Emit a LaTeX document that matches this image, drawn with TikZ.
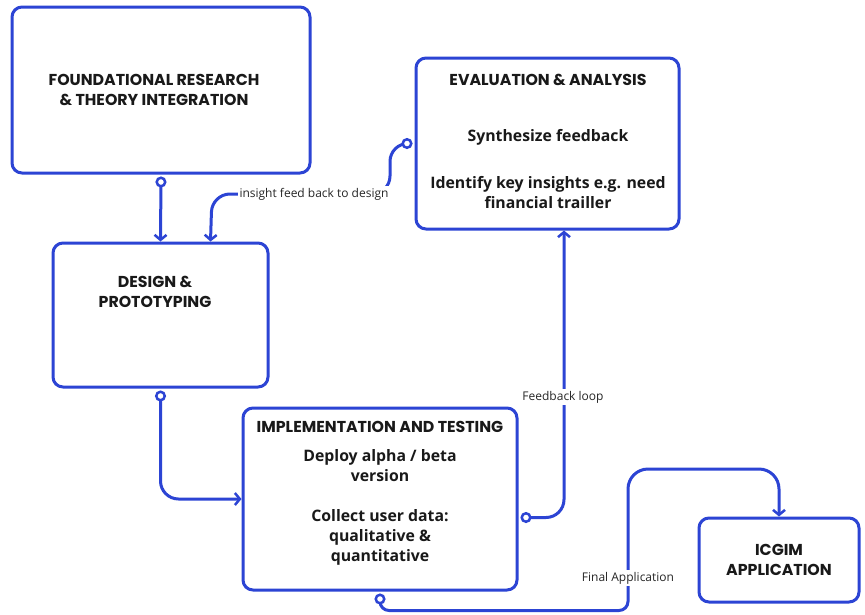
\documentclass[tikz,border=0pt]{standalone}
\usepackage{fontspec}
\setmainfont{Open Sans}
\newfontfamily\titlefont{Poppins}
\usetikzlibrary{arrows.meta,calc}
\definecolor{bl}{RGB}{44,68,212}
\begin{document}
\begin{tikzpicture}[x=1pt,y=-1pt,
  box/.style={draw=bl,line width=3pt,rounded corners=10pt,fill=white,inner sep=0pt},
  ttl/.style={font=\titlefont\bfseries\fontsize{15.8}{20}\selectfont,align=center,inner sep=0pt,text=black!90},
  bod/.style={font=\bfseries\fontsize{15.8}{20}\selectfont,align=center,inner sep=0pt,text=black!90},
  lbl/.style={font=\fontsize{12}{14}\selectfont,fill=white,inner sep=2pt,text=black!85},
  conn/.style={draw=bl,line width=3pt,rounded corners=18pt,
    {Circle[open,length=11pt,width=11pt,fill=white,line width=2.5pt]}-{Straight Barb[length=5pt,width=12pt,line width=2.5pt]}}]
\useasboundingbox[fill=white] (0,0) rectangle (865,614);
% boxes
\node[box,minimum width=298pt,minimum height=166pt] (f) at (161,90) {};
\node[box,minimum width=263pt,minimum height=171pt] (e) at (547.5,143.5) {};
\node[box,minimum width=215pt,minimum height=144pt] (d) at (160.5,315) {};
\node[box,minimum width=274pt,minimum height=182pt] (i) at (380,499) {};
\node[box,minimum width=160pt,minimum height=84pt] (g) at (779,560) {};
% texts
\node[ttl] (ft) at (154,90) {FOUNDATIONAL RESEARCH\\\& THEORY INTEGRATION};
\node[ttl] (et) at (548,80) {EVALUATION \& ANALYSIS};
\node[bod] (e1) at (548,137) {Synthesize feedback};
\node[bod] (e2) at (548,192.5) {Identify key insights e.g. need\\financial trailler};
\node[ttl] (dt) at (155,291.5) {DESIGN \&\\PROTOTYPING};
\node[ttl] (it) at (380,427) {IMPLEMENTATION AND TESTING};
\node[bod] (i1) at (380,466) {Deploy alpha / beta\\version};
\node[bod] (i2) at (380,537.5) {Collect user data:\\qualitative \&\\quantitative};
\node[ttl] (gt) at (779,560) {ICGIM\\APPLICATION};
% connectors
\draw[conn] ($(f.south)+(0,2)$) -- (d.north);
\draw[conn] ($(e.west)+(-2,0)$) -- (390,143.5) -- (390,194) -- (212,194) -- ($(d.north west)+(159,0)$);
\node[lbl] (l1) at (314,194) {insight feed back to design};
\draw[conn] ($(d.south)+(0,2)$) |- (i.west);
\draw[conn] ($(i.south east)+(2,-74)$) -| ($(e.south)+(16.5,0)$);
\node[lbl] (l2) at (563,397) {Feedback loop};
\draw[conn,rounded corners=9pt] ($(i.south)+(0,2)$) -- (380,610.5) -- (628,610.5) [rounded corners=20pt] -- (628,469) -- (779,469) -- (g.north);
\node[lbl] (l3) at (628,578) {Final Application};
\end{tikzpicture}
\end{document}
